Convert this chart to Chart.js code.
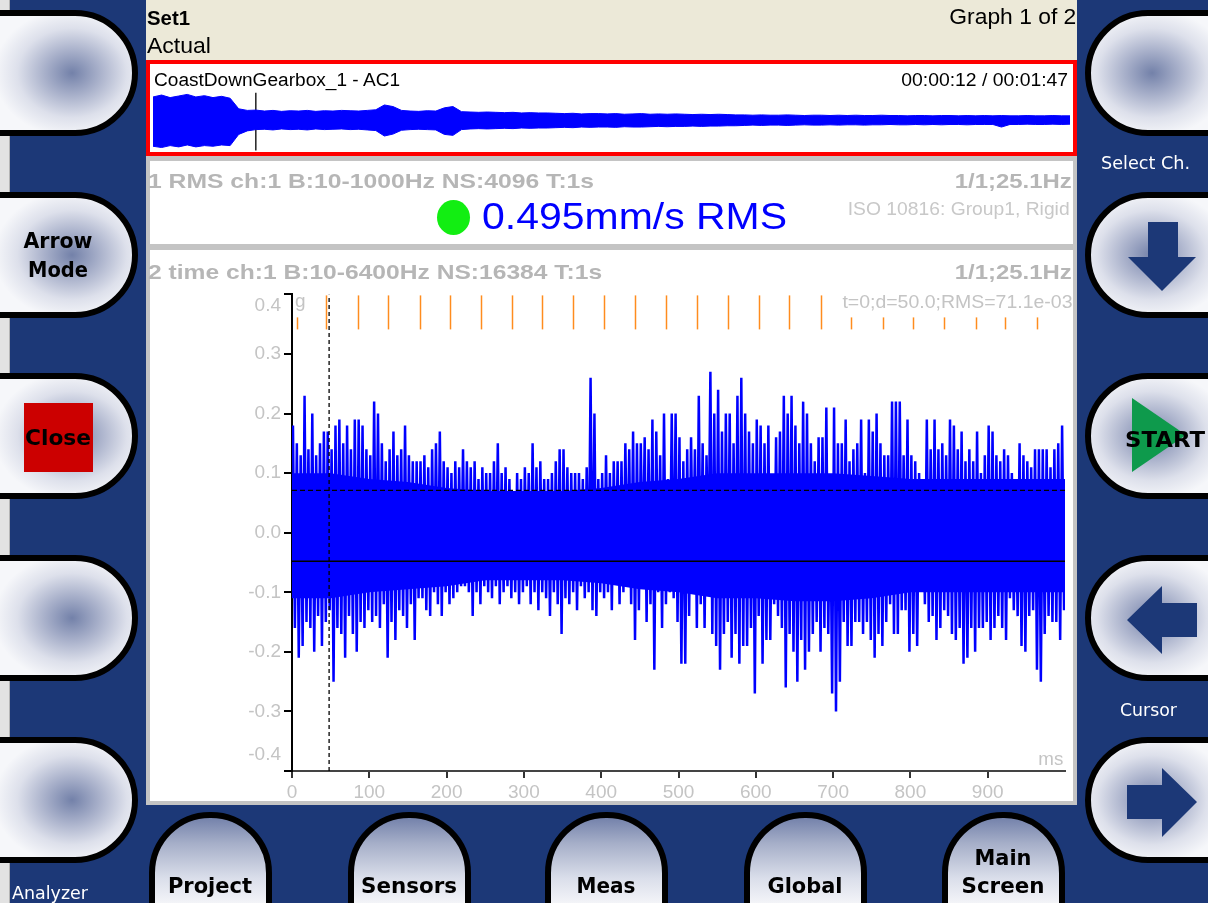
<!DOCTYPE html>
<html>
<head>
<meta charset="utf-8">
<title>Analyzer - time waveform</title>
<script src="https://cdn.jsdelivr.net/npm/chart.js@4.4.1/dist/chart.umd.min.js"></script>
<style>
  html, body { margin: 0; padding: 0; }
  body { width: 1208px; height: 903px; overflow: hidden; position: relative; background: #1c3877; font-family: "Liberation Sans", Arial, sans-serif; }
  .abs { position: absolute; white-space: nowrap; line-height: 1; }
  .strip { position: absolute; left: 0; top: 0; width: 9px; height: 903px; background: #e2e2e2; border-right: 1px solid #b4b4b4; }
  .btnL, .btnR, .btnB { position: absolute; box-sizing: border-box; border: 6px solid #000; }
  .btnL { left: -20px; width: 158px; height: 126px; border-radius: 0 63px 63px 0;
          background: radial-gradient(ellipse 78px 64px at 86px 50%, #7381a9 0%, #a8b0ca 35%, #dde0eb 70%, #f6f7fa 100%); }
  .btnR { left: 1085px; width: 160px; height: 126px; border-radius: 63px 0 0 63px;
          background: radial-gradient(ellipse 78px 64px at 61px 50%, #7381a9 0%, #a8b0ca 35%, #dde0eb 70%, #f6f7fa 100%); }
  .btnB { top: 812px; width: 123px; height: 130px; border-radius: 61px 61px 0 0;
          background: linear-gradient(to bottom, #7482ab 0px, #a5aec8 25px, #dadeea 60px, #f3f4f8 85px); }
  .lbl { font-family: "DejaVu Sans", sans-serif; font-weight: bold; font-size: 21px; color: #000; }
  .side { font-family: "DejaVu Sans", sans-serif; font-size: 17px; color: #fff; }
  .title { font-weight: bold; font-size: 21px; color: #b6b6b6; }
  .axis { font-size: 19px; color: #c4c4c4; }
</style>
</head>
<body>
<div class="strip"></div>

<!-- side buttons -->
<div class="btnL" style="top:10px"></div>
<div class="btnL" style="top:192px"></div>
<div class="btnL" style="top:373px"></div>
<div class="btnL" style="top:555px"></div>
<div class="btnL" style="top:737px"></div>
<div class="btnR" style="top:10px"></div>
<div class="btnR" style="top:192px"></div>
<div class="btnR" style="top:373px"></div>
<div class="btnR" style="top:555px"></div>
<div class="btnR" style="top:737px"></div>
<div class="btnB" style="left:149px"></div>
<div class="btnB" style="left:348px"></div>
<div class="btnB" style="left:545px"></div>
<div class="btnB" style="left:744px"></div>
<div class="btnB" style="left:942px"></div>

<!-- centre panel -->
<div class="abs" style="left:146px;top:0;width:931px;height:805px;background:#c4c4c4"></div>
<div class="abs" style="left:146px;top:0;width:931px;height:60px;background:#ece9d8"></div>
<div class="abs" style="left:146px;top:60px;width:931px;height:96px;box-sizing:border-box;border:4px solid #ff0000;background:#fff"></div>
<div class="abs" style="left:150px;top:161px;width:923px;height:83px;background:#fff"></div>
<div class="abs" style="left:150px;top:250px;width:923px;height:551px;background:#fff"></div>
<div class="abs" style="left:24px;top:403px;width:69px;height:69px;background:#cc0000"></div>

<canvas id="overview" width="923" height="64" style="position:absolute;left:150px;top:88px"></canvas>
<canvas id="wave" width="923" height="521" style="position:absolute;left:150px;top:280px"></canvas>

<svg class="abs" style="left:0;top:0" width="1208" height="903">
  <polygon points="1148,222 1178,222 1178,257 1196,257 1162,291 1128,257 1148,257" fill="#1c3877"/>
  <polygon points="1127,620 1162,586 1162,603 1197,603 1197,637 1162,637 1162,654" fill="#1c3877"/>
  <polygon points="1197,802 1162,768 1162,785 1127,785 1127,819 1162,819 1162,837" fill="#1c3877"/>
  <polygon points="1132,398 1132,472 1186,435" fill="#0e9a4c"/>
</svg>

<!-- header texts -->
<div class="abs fit" data-w="43" style="left:147px;top:7px;font-size:21px;font-weight:bold">Set1</div>
<div class="abs fit" data-w="64" style="left:147px;top:35px;font-size:22px">Actual</div>
<div class="abs fit" data-w="127" data-o="r" style="right:132px;top:6px;font-size:22px">Graph 1 of 2</div>
<div class="abs fit" data-w="246" style="left:154px;top:71px;font-size:18px">CoastDownGearbox_1 - AC1</div>
<div class="abs fit" data-w="167" data-o="r" style="right:140px;top:71px;font-size:18px">00:00:12 / 00:01:47</div>

<div class="abs fit title" data-w="446" style="left:148px;top:170px">1 RMS ch:1 B:10-1000Hz NS:4096 T:1s</div>
<div class="abs fit title" data-w="117" data-o="r" style="right:136px;top:170px">1/1;25.1Hz</div>
<div class="abs" style="left:437px;top:200px;width:33px;height:35px;border-radius:50%;background:#12ee12"></div>
<div class="abs fit" data-w="305" style="left:482px;top:199px;font-size:36px;color:#0000ff">0.495mm/s RMS</div>
<div class="abs fit" data-w="222" data-o="r" style="right:138px;top:199px;font-size:19px;color:#c8c8c8">ISO 10816: Group1, Rigid</div>

<div class="abs fit title" data-w="454" style="left:148px;top:261px">2 time ch:1 B:10-6400Hz NS:16384 T:1s</div>
<div class="abs fit title" data-w="117" data-o="r" style="right:136px;top:261px">1/1;25.1Hz</div>
<div class="abs axis" style="left:295px;top:291px">g</div>
<div class="abs fit axis" data-w="230" data-o="r" style="right:136px;top:292px">t=0;d=50.0;RMS=71.1e-03</div>
<div class="abs fit axis" data-w="25" data-o="r" style="right:145px;top:749px">ms</div>

<!-- button captions -->
<div class="abs fit lbl" data-w="69" data-o="c" style="left:58px;top:231px">Arrow</div>
<div class="abs fit lbl" data-w="60" data-o="c" style="left:58px;top:260px">Mode</div>
<div class="abs fit lbl" data-w="66" data-o="c" style="left:58px;top:428px">Close</div>
<div class="abs fit lbl" data-w="80" data-o="c" style="left:1165px;top:429px;font-size:22px">START</div>
<div class="abs fit lbl" data-w="84" data-o="c" style="left:210px;top:876px">Project</div>
<div class="abs fit lbl" data-w="96" data-o="c" style="left:409px;top:876px">Sensors</div>
<div class="abs fit lbl" data-w="59" data-o="c" style="left:606px;top:876px">Meas</div>
<div class="abs fit lbl" data-w="75" data-o="c" style="left:805px;top:876px">Global</div>
<div class="abs fit lbl" data-w="57" data-o="c" style="left:1003px;top:848px">Main</div>
<div class="abs fit lbl" data-w="83" data-o="c" style="left:1003px;top:876px">Screen</div>
<div class="abs fit side" data-w="89" style="left:1101px;top:155px">Select Ch.</div>
<div class="abs fit side" data-w="57" style="left:1120px;top:702px">Cursor</div>
<div class="abs fit side" data-w="76" style="left:12px;top:885px">Analyzer</div>

<script>
// time signal, one upper and one lower peak per 5 ms bin (g)
const binMs = 5;
const upperPeaks = [
  .18, .15, .13, .23, .14, .2, .13, .15, .17, .17,
  .14, .18, .19, .15, .18, .14, .19, .19, .18, .14,
  .13, .22, .2, .15, .12, .14, .17, .13, .14, .18,
  .13, .12, .12, .12, .13, .11, .14, .15, .17, .12,
  .11, .1, .12, .11, .14, .12, .11, .12, .09, .11,
  .1, .1, .12, .15, .1, .11, .09, .07, .1, .09,
  .11, .1, .15, .11, .12, .09, .09, .1, .12, .14,
  .14, .11, .1, .1, .1, .09, .11, .26, .2, .09,
  .1, .13, .1, .12, .12, .12, .15, .14, .17, .15,
  .15, .16, .14, .19, .17, .13, .2, .09, .2, .2,
  .16, .12, .14, .16, .14, .23, .15, .13, .27, .2,
  .24, .17, .2, .2, .15, .23, .26, .2, .17, .15,
  .19, .18, .15, .18, .09, .16, .17, .23, .2, .23,
  .18, .15, .22, .2, .15, .12, .16, .16, .21, .08,
  .21, .15, .15, .19, .12, .14, .15, .19, .1, .19,
  .17, .2, .15, .13, .13, .22, .22, .22, .13, .19,
  .13, .12, .1, .07, .19, .14, .19, .14, .15, .13,
  .19, .18, .14, .17, .12, .14, .12, .17, .1, .13,
  .18, .17, .13, .12, .14, .13, .1, .06, .15, .13,
  .12, .11, .14, .14, .14, .14, .11, .14, .15, .18
];
const lowerPeaks = [
  -.16, -.21, -.19, -.15, -.16, -.2, -.14, -.19, -.15, -.13,
  -.25, -.16, -.17, -.21, -.14, -.17, -.2, -.15, -.16, -.13,
  -.15, -.14, -.16, -.12, -.21, -.15, -.18, -.13, -.14, -.16,
  -.12, -.18, -.11, -.11, -.13, -.14, -.1, -.12, -.14, -.1,
  -.12, -.11, -.1, -.09, -.09, -.1, -.14, -.1, -.12, -.09,
  -.1, -.11, -.09, -.12, -.1, -.09, -.11, -.1, -.12, -.1,
  -.09, -.12, -.1, -.13, -.1, -.11, -.14, -.1, -.12, -.17,
  -.11, -.12, -.1, -.13, -.09, -.11, -.1, -.13, -.14, -.1,
  -.11, -.1, -.13, -.08, -.12, -.1, -.07, -.12, -.18, -.13,
  -.07, -.15, -.12, -.23, -.1, -.16, -.12, -.1, -.11, -.15,
  -.22, -.22, -.14, -.07, -.16, -.12, -.16, -.06, -.17, -.19,
  -.23, -.17, -.15, -.21, -.17, -.22, -.19, -.19, -.16, -.27,
  -.14, -.22, -.18, -.18, -.12, -.14, -.16, -.26, -.17, -.2,
  -.25, -.18, -.23, -.2, -.17, -.15, -.2, -.16, -.17, -.27,
  -.3, -.25, -.15, -.19, -.19, -.15, -.15, -.17, -.15, -.18,
  -.21, -.17, -.19, -.15, -.12, -.17, -.17, -.13, -.13, -.2,
  -.17, -.19, -.09, -.12, -.15, -.14, -.18, -.16, -.13, -.14,
  -.17, -.18, -.16, -.22, -.21, -.16, -.2, -.16, -.16, -.15,
  -.18, -.16, -.14, -.16, -.18, -.11, -.13, -.14, -.19, -.2,
  -.14, -.13, -.23, -.25, -.17, -.14, -.15, -.15, -.18, -.13
];
// dense body of the signal, every 50 ms
const coreMs = [0, 50, 100, 150, 200, 250, 300, 350, 400, 450, 500,
  550, 600, 650, 700, 750, 800, 850, 900, 950, 1000];
const coreTop = [.1, .1, .09, .085, .075, .07, .07, .07, .075, .085, .09,
  .1, .1, .1, .1, .095, .09, .09, .09, .09, .09];
const coreBottom = [-.11, -.11, -.1, -.095, -.09, -.08, -.08, -.08, -.085, -.095, -.1,
  -.11, -.11, -.115, -.115, -.11, -.1, -.1, -.1, -.1, -.1];

const rmsLevel = 0.0711;
const offsetLevel = -0.048;
const cursorMs = 48;
// harmonic cursor marks of 25.1 Hz (ms)
const harmonicMs = [6, 44, 85, 124, 166, 204, 245, 284, 324, 364, 404, 444, 484,
  524, 564, 604, 643, 684, 723, 764, 803, 844, 885, 923, 964];

// overview of the whole recording, one value per second
const overviewUpper = [
  .72, .78, .7, .75, .8, .72, .76, .7, .74, .68,
  .35, .3,
  .31, .28, .3, .27, .29, .28, .3, .27, .29, .28, .3, .29, .28, .3, .32,
  .47, .42,
  .3, .28, .27, .29, .28,
  .38, .42,
  .26, .25, .24, .25, .24, .23, .24, .22, .23, .22, .22, .21,
  .2, .21, .19, .2, .2, .19, .2, .18, .19, .2, .18, .19, .18, .19, .18, .17, .18, .17, .18, .17, .16,
  .16, .15, .16, .15, .15, .16, .15, .14, .15, .15, .14, .15, .14, .15, .14, .14, .15, .14, .14, .13,
  .14, .14, .13, .14, .14, .13, .14, .13, .14, .13, .14, .13, .13, .14, .13, .13, .14, .13, .13
];
const overviewLower = [
  -.82, -.86, -.8, -.84, -.78, -.84, -.8, -.82, -.78, -.8,
  -.45, -.34,
  -.3, -.29, -.31, -.28, -.3, -.29, -.31, -.28, -.3, -.29, -.28, -.3, -.29, -.31, -.33,
  -.5, -.44,
  -.32, -.3, -.29, -.3, -.31,
  -.45, -.48,
  -.3, -.28, -.27, -.28, -.27, -.26, -.27, -.25, -.26, -.25, -.25, -.24,
  -.23, -.24, -.22, -.23, -.22, -.22, -.23, -.21, -.22, -.22, -.21, -.2, -.21, -.2, -.2, -.19, -.2, -.19, -.19, -.18, -.18,
  -.17, -.16, -.17, -.16, -.16, -.17, -.16, -.15, -.16, -.16, -.15, -.16, -.15, -.15, -.16, -.15, -.15, -.14, -.15, -.15,
  -.14, -.15, -.14, -.15, -.14, -.14, -.15, -.14, -.14, -.14, -.22, -.14, -.14, -.13, -.14, -.14, -.13, -.14, -.13
];
const overviewCursorS = 12;

Chart.defaults.font.family = '"Liberation Sans", Arial, sans-serif';
Chart.defaults.animation = false;

const wavePoints = [];
upperPeaks.forEach((hi, i) => {
  wavePoints.push({ x: i * binMs + binMs * 0.25, y: hi });
  wavePoints.push({ x: i * binMs + binMs * 0.75, y: lowerPeaks[i] });
});

const hLine = (v) => [{ x: 0, y: v }, { x: 1000, y: v }];

const harmonicPlugin = {
  id: "harmonics",
  afterDatasetsDraw(chart) {
    const { ctx, chartArea, scales } = chart;
    ctx.save();
    ctx.strokeStyle = "#ff8c1e";
    ctx.lineWidth = 1.5;
    harmonicMs.forEach((t, k) => {
      const x = Math.round(scales.x.getPixelForValue(t)) + 0.5;
      const short = k === 0 || t > 700; // under the texts
      ctx.beginPath();
      ctx.moveTo(x, chartArea.top + (short ? 23 : 1));
      ctx.lineTo(x, chartArea.top + 35);
      ctx.stroke();
    });
    // end labels of y axis are drawn inside the frame
    ctx.fillStyle = "#c4c4c4";
    ctx.font = '19px "Liberation Sans"';
    ctx.textAlign = "right";
    ctx.textBaseline = "middle";
    ctx.fillText("0.4", chartArea.left - 11, scales.y.getPixelForValue(0.4) + 11);
    ctx.fillText("-0.4", chartArea.left - 11, scales.y.getPixelForValue(-0.4) - 16);
    ctx.restore();
  },
};

const configWave = {
  type: "line",
  data: {
    datasets: [
      { data: hLine(rmsLevel), borderColor: "#000", borderWidth: 1.3, borderDash: [5, 3], pointRadius: 0, order: 1 },
      { data: hLine(offsetLevel), borderColor: "#000", borderWidth: 1.5, pointRadius: 0, order: 1 },
      { data: [{ x: cursorMs, y: -0.4 }, { x: cursorMs, y: 0.4 }], borderColor: "#000", borderWidth: 1.3, borderDash: [4, 3], pointRadius: 0, order: 1 },
      { data: wavePoints, borderColor: "#0000ff", borderWidth: 2.5, pointRadius: 0, order: 2 },
      { data: coreMs.map((t, i) => ({ x: t, y: coreTop[i] })), borderWidth: 0, borderColor: "#0000ff", pointRadius: 0, fill: false, order: 3 },
      { data: coreMs.map((t, i) => ({ x: t, y: coreBottom[i] })), borderWidth: 0, borderColor: "#0000ff", backgroundColor: "#0000ff", pointRadius: 0, fill: "-1", order: 3 },
    ],
  },
  options: {
    responsive: false,
    events: [],
    layout: { padding: { top: 9, right: 8, left: 0, bottom: 0 } },
    plugins: { legend: { display: false }, tooltip: { enabled: false } },
    scales: {
      x: {
        type: "linear",
        min: 0,
        max: 1000,
        afterBuildTicks: (scale) => {
          scale.ticks = scale.ticks.filter((t) => t.value < 1000);
        },
        afterFit: (scale) => {
          scale.height = 30;
        },
        ticks: { stepSize: 100, autoSkip: false, maxRotation: 0, color: "#c4c4c4", padding: 3, font: { size: 19 } },
        grid: { drawOnChartArea: false, tickLength: 7, color: "#333", lineWidth: 2 },
        border: { color: "#444", width: 2 },
      },
      y: {
        min: -0.4,
        max: 0.4,
        afterFit: (scale) => {
          scale.width = 142;
        },
        ticks: {
          stepSize: 0.1,
          color: "#c4c4c4",
          padding: 3,
          font: { size: 19 },
          callback: (v) => (Math.abs(v) > 0.35 ? "" : (Math.round(v * 10) / 10).toFixed(1)),
        },
        grid: { drawOnChartArea: false, tickLength: 8, color: "#000", lineWidth: 2 },
        border: { color: "#000", width: 2 },
      },
    },
  },
  plugins: [harmonicPlugin],
};

const chartWave = new Chart(document.getElementById("wave"), configWave);

const configOverview = {
  type: "line",
  data: {
    datasets: [
      { data: overviewUpper.map((v, i) => ({ x: i, y: v })), borderColor: "#0000ff", borderWidth: 1, pointRadius: 0, fill: false },
      { data: overviewLower.map((v, i) => ({ x: i, y: v })), borderColor: "#0000ff", borderWidth: 1, pointRadius: 0, fill: "-1", backgroundColor: "#0000ff" },
      { data: [{ x: overviewCursorS, y: 0.85 }, { x: overviewCursorS, y: -0.95 }], borderColor: "#000", borderWidth: 1.3, pointRadius: 0 },
    ],
  },
  options: {
    responsive: false,
    events: [],
    layout: { padding: { left: 3, right: 3 } },
    plugins: { legend: { display: false }, tooltip: { enabled: false } },
    scales: {
      x: { type: "linear", display: false, min: 0, max: 107 },
      y: { display: false, min: -1, max: 1 },
    },
  },
};

const chartOverview = new Chart(document.getElementById("overview"), configOverview);

// squeeze or stretch texts to the widths seen on the device
document.querySelectorAll(".fit").forEach((el) => {
  const w = el.getBoundingClientRect().width;
  const k = el.dataset.w ? +el.dataset.w / w : 1;
  const o = el.dataset.o || "l";
  el.style.transformOrigin = o === "r" ? "right center" : o === "c" ? "center center" : "left center";
  el.style.transform = (o === "c" ? "translateX(-50%) " : "") + "scaleX(" + k.toFixed(3) + ")";
});
</script>
</body>
</html>
